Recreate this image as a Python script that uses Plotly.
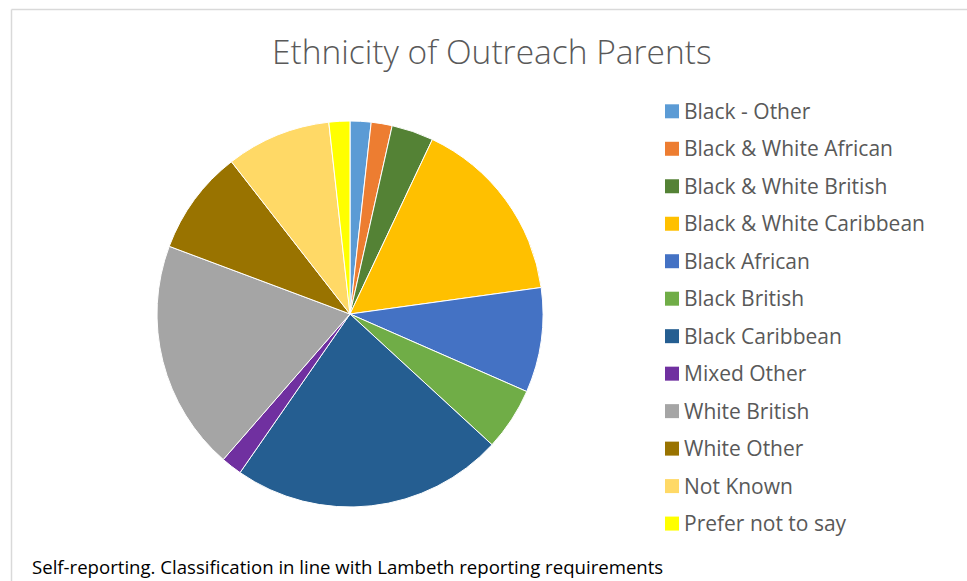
import plotly.graph_objects as go

# Parent ethnicity counts, in legend order (slices run clockwise from 12 o'clock)
categories = [
    "Black - Other", "Black & White African", "Black & White British",
    "Black & White Caribbean", "Black African", "Black British",
    "Black Caribbean", "Mixed Other", "White British", "White Other",
    "Not Known", "Prefer not to say",
]
counts = [1, 1, 2, 9, 5, 3, 13, 1, 11, 5, 5, 1]
colors = [
    "#5B9BD5", "#ED7D31", "#548235", "#FFC000", "#4472C4", "#70AD47",
    "#255E91", "#7030A0", "#A5A5A5", "#997300", "#FFD966", "#FFFF00",
]

title_text = "Ethnicity of Outreach Parents"
footnote = "Self-reporting. Classification in line with Lambeth reporting requirements"

W, H = 967, 581
FONT = "Open Sans"
GREY_TEXT = "#595959"

# pie placement (pixels)
cx, cy, r = 350, 314, 193


def px_x(x):
    return x / W


def px_y(y):
    return 1 - y / H


fig = go.Figure(
    go.Pie(
        labels=categories,
        values=counts,
        marker=dict(colors=colors, line=dict(color="white", width=1)),
        sort=False,
        direction="clockwise",
        rotation=0,
        textinfo="none",
        hoverinfo="label+value+percent",
        showlegend=False,
        domain=dict(x=[px_x(cx - r), px_x(cx + r)], y=[px_y(cy + r), px_y(cy - r)]),
    )
)

shapes = []
annotations = []

# chart area outline (top and left edges)
shapes.append(dict(type="line", xref="paper", yref="paper",
                   x0=px_x(11.5), x1=1, y0=px_y(9.5), y1=px_y(9.5),
                   line=dict(color="#D9D9D9", width=1.5)))
shapes.append(dict(type="line", xref="paper", yref="paper",
                   x0=px_x(11.5), x1=px_x(11.5), y0=px_y(9.5), y1=0,
                   line=dict(color="#D9D9D9", width=1.5)))

# legend: swatch + label per category
leg_top, leg_step = 111.3, 37.48
for i, (lab, col) in enumerate(zip(categories, colors)):
    yc = leg_top + i * leg_step
    shapes.append(dict(type="rect", xref="paper", yref="paper",
                       x0=px_x(665), x1=px_x(679), y0=px_y(yc + 7), y1=px_y(yc - 7),
                       fillcolor=col, line=dict(width=0)))
    annotations.append(dict(text=lab, xref="paper", yref="paper",
                            x=px_x(682), y=px_y(yc - 0.5), xanchor="left", yanchor="middle",
                            showarrow=False, font=dict(family=FONT, size=21, color=GREY_TEXT)))

annotations.append(dict(text=title_text, xref="paper", yref="paper",
                        x=px_x(492), y=px_y(51), xanchor="center", yanchor="middle",
                        showarrow=False, font=dict(family=FONT, size=33.5, color=GREY_TEXT, weight=300)))
annotations.append(dict(text=footnote, xref="paper", yref="paper",
                        x=px_x(30), y=px_y(566), xanchor="left", yanchor="middle",
                        showarrow=False, font=dict(family=FONT, size=18.6, color="#000000")))

fig.update_layout(
    width=W, height=H,
    margin=dict(l=0, r=0, t=0, b=0),
    paper_bgcolor="white",
    plot_bgcolor="white",
    shapes=shapes,
    annotations=annotations,
)

fig.write_html("out.html")
